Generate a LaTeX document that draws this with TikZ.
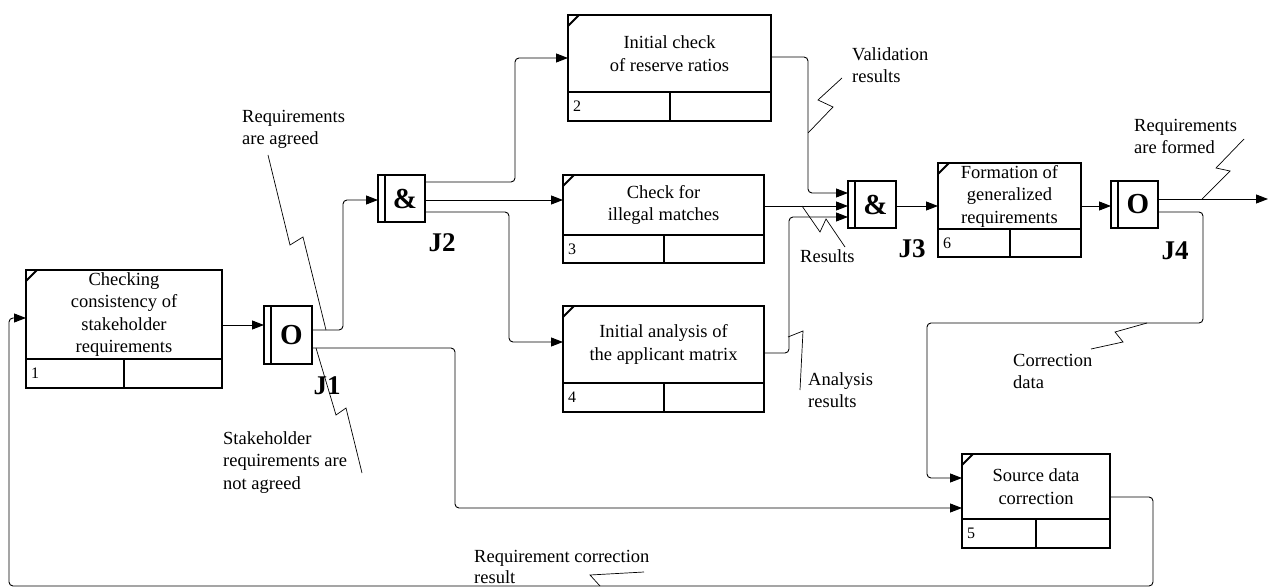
\documentclass[tikz,border=0pt]{standalone}
\usepackage{fontspec}
\setmainfont{Liberation Serif}
\usetikzlibrary{arrows.meta}
\tikzset{
  fn/.style={draw, line width=1.8pt, inner sep=0, outer sep=0},
  fnline/.style={line width=1.8pt},
  fntext/.style={align=center, font=\fontsize{18.5}{22.5}\selectfont, inner sep=0},
  fnnum/.style={anchor=west, font=\fontsize{16}{18}\selectfont, inner sep=0},
  jsym/.style={font=\fontsize{29}{32}\selectfont\bfseries, inner sep=0},
  jlab/.style={font=\fontsize{27}{30}\selectfont\bfseries, inner sep=0},
  conn/.style={line width=0.9pt, rounded corners=4pt},
  arr/.style={conn, -{Triangle[length=12pt,width=9pt]}},
  sq/.style={line width=0.7pt},
  lbl/.style={anchor=north west, align=left, inner sep=0, font=\fontsize{18.5}{22.5}\selectfont},
}
\newcommand\fnbox[9]{%
  \node[fn, minimum width={(#4-#2)*1pt}, minimum height={(#5-#3)*1pt}] (#1) at ({(#2+#4)/2},{(#3+#5)/2}) {};
  \draw[fnline] (#2,#6) -- (#4,#6) (#7,#6) -- (#7,#5) (#2,#3+11) -- (#2+11,#3);
  \node[fntext] (#1t) at ({(#2+#4)/2},{(#3+#6)/2}) {#9};
  \node[fnnum] (#1n) at (#2+5,{(#6+#5)/2}) {#8};
}
\newcommand\jbox[6]{%
  \node[fn, minimum width={(#4-#2)*1pt}, minimum height={(#5-#3)*1pt}] (#1) at ({(#2+#4)/2},{(#3+#5)/2}) {};
  \draw[fnline] (#2+7,#3) -- (#2+7,#5);
  \node[jsym] (#1s) at ({(#2+7+#4)/2},{(#3+#5)/2}) {#6};
}
\begin{document}
\begin{tikzpicture}[x=1pt,y=-1pt]
\useasboundingbox (0,0) rectangle (1269,588);

% function boxes
\fnbox{b1}{26}{270}{222}{388}{359}{124}{1}{Checking\\consistency of\\stakeholder\\requirements}
\fnbox{b2}{568}{15}{771}{121}{92}{670}{2}{Initial check\\of reserve ratios}
\fnbox{b3}{563}{175}{764}{263}{235}{664}{3}{Check for\\illegal matches}
\fnbox{b4}{563}{306}{764}{412}{383}{664}{4}{Initial analysis of\\the applicant matrix}
\fnbox{b6}{938}{163}{1081}{257}{229}{1010}{6}{Formation of\\generalized\\requirements}
\fnbox{b5}{962}{454}{1110}{548}{519}{1036}{5}{Source data\\correction}

% junctions
\jbox{j1}{264}{306}{312}{364}{O}
\jbox{j2}{378}{175}{425}{222}{\&}
\jbox{j3}{848}{181}{896}{228}{\&}
\jbox{j4}{1111}{181}{1158}{228}{O}
\node[jlab] (j1l) at (327,386) {J1};
\node[jlab] (j2l) at (442,243) {J2};
\node[jlab] (j3l) at (912,249) {J3};
\node[jlab] (j4l) at (1175,251) {J4};

% connectors
\draw[arr] (b1.east |- 0,325) -- (j1.west |- 0,325);
\draw[arr] (j1.east |- 0,330) -- (343,330) -- (343,200) -- (j2.west |- 0,200);
\draw[arr] (j1.east |- 0,348) -- (455,348) -- (455,508) -- (b5.west |- 0,508);
\draw[arr] (j2.east |- 0,182) -- (515,182) -- (515,58) -- (b2.west |- 0,58);
\draw[arr] (j2.east |- 0,200) -- (b3.west |- 0,200);
\draw[arr] (j2.east |- 0,212) -- (509,212) -- (509,342) -- (b4.west |- 0,342);
\draw[arr] (b2.east |- 0,57) -- (808,57) -- (808,193) -- (j3.west |- 0,193);
\draw[arr] (b3.east |- 0,206) -- (j3.west |- 0,206);
\draw[arr] (b4.east |- 0,353) -- (789,353) -- (789,217) -- (j3.west |- 0,217);
\draw[arr] (j3.east |- 0,206) -- (b6.west |- 0,206);
\draw[arr] (b6.east |- 0,206) -- (j4.west |- 0,206);
\coordinate (out) at (1268,199);
\draw[arr] (j4.east |- 0,199) -- (out);
\draw[arr] (j4.east |- 0,212) -- (1203,212) -- (1203,323) -- (927,323) -- (927,478) -- (b5.west |- 0,478);
\draw[arr] (b5.east |- 0,497) -- (1153,497) -- (1153,586) -- (9,586) -- (9,318) -- (b1.west |- 0,318);

% labels
\node[lbl] (la) at (242,110) {Requirements\\are agreed};
\node[lbl] (lb) at (223,431) {Stakeholder\\requirements are\\not agreed};
\node[lbl] (lc) at (852,47) {Validation\\results};
\node[lbl] (ld) at (800,249) {Results};
\node[lbl] (le) at (808,372) {Analysis\\results};
\node[lbl] (lf) at (1134,119) {Requirements\\are formed};
\node[lbl] (lg) at (1013,354) {Correction\\data};
\node[lbl, font=\fontsize{18.5}{21}\selectfont] (lh) at (474,550) {Requirement correction\\result};

% squiggles
\draw[sq] (268,155) -- (290,245) -- (303,237) -- (326,330);
\draw[sq] (362,473) -- (346,408) -- (336,415) -- (316,348);
\draw[sq] (842,78) -- (818,100) -- (833,107) -- (808,133);
\draw[sq] (845,247) -- (826,219) -- (820,232) -- (802,206);
\draw[sq] (800,390) -- (803,331) -- (788,337);
\draw[sq] (1244,139) -- (1216,168) -- (1230,171) -- (1202,199);
\draw[sq] (1091,349) -- (1123,342) -- (1115,332) -- (1147,323);
\draw[sq] (644,572) -- (590,575) -- (600,586);
\end{tikzpicture}
\end{document}
